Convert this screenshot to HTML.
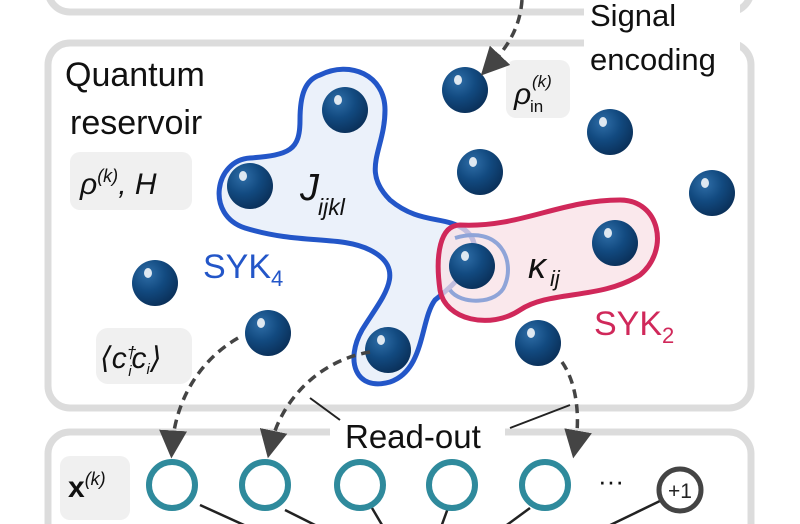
<!DOCTYPE html>
<html><head><meta charset="utf-8"><style>
html,body{margin:0;padding:0;background:#fff;width:800px;height:524px;overflow:hidden}
svg{display:block}
text{font-family:"Liberation Sans","DejaVu Sans",sans-serif}
</style></head><body>
<svg width="800" height="524" viewBox="0 0 800 524" xmlns="http://www.w3.org/2000/svg" style="overflow:hidden">
<defs>
<radialGradient id="ball" cx="0.35" cy="0.3" r="0.75">
<stop offset="0" stop-color="#2f6ea8"/><stop offset="0.5" stop-color="#124a80"/><stop offset="1" stop-color="#0a2f58"/>
</radialGradient>
<marker id="ah" markerWidth="8" markerHeight="8" refX="5" refY="4" orient="auto" markerUnits="strokeWidth">
<path d="M0,0 L8,4 L0,8 z" fill="#444"/></marker>
</defs>
<!-- panels -->
<rect x="48" y="-40" width="703" height="52" rx="22" fill="none" stroke="#dcdcdc" stroke-width="7"/>
<rect x="48" y="43" width="703" height="365" rx="22" fill="none" stroke="#dcdcdc" stroke-width="7"/>
<rect x="48" y="432" width="703" height="130" rx="22" fill="none" stroke="#dcdcdc" stroke-width="7"/>
<rect x="330" y="420" width="175" height="30" fill="#fff"/>
<rect x="584" y="0" width="156" height="78" fill="#fff"/>
<!-- label boxes -->
<rect x="70" y="152" width="122" height="58" rx="10" fill="#f0f0f0"/>
<rect x="506" y="60" width="64" height="58" rx="10" fill="#f0f0f0"/>
<rect x="96" y="328" width="96" height="56" rx="12" fill="#f0f0f0"/>
<rect x="60" y="456" width="70" height="64" rx="10" fill="#f0f0f0"/>
<!-- blue blob -->
<path d="M320,75 C350,60 385,75 385,110 C385,150 360,170 390,200 C420,225 445,215 465,230 C490,250 460,280 435,300 C420,320 425,370 390,382 C355,392 345,360 362,330 C380,300 410,270 370,250 C340,235 300,245 245,228 C205,215 215,160 250,158 C290,155 300,150 300,120 C300,95 305,80 320,75 Z" fill="#e6eef9" fill-opacity="0.8" stroke="#2356c8" stroke-width="5"/>
<!-- red blob -->
<path d="M460,225 C520,228 560,200 620,200 C660,200 670,250 640,275 C600,300 550,290 520,310 C490,330 445,320 440,290 C435,255 440,225 460,225 Z" fill="#f8e0e6" fill-opacity="0.75" stroke="#d0285a" stroke-width="5"/>
<path d="M455,238 C500,225 515,260 505,285 C498,305 460,305 450,290" fill="none" stroke="#8fa4d8" stroke-width="4"/>
<!-- balls -->
<g fill="url(#ball)">
<circle cx="345" cy="110" r="23"/><circle cx="250" cy="186" r="23"/><circle cx="465" cy="90" r="23"/>
<circle cx="610" cy="132" r="23"/><circle cx="480" cy="172" r="23"/><circle cx="712" cy="193" r="23"/>
<circle cx="155" cy="283" r="23"/><circle cx="268" cy="333" r="23"/><circle cx="472" cy="266" r="23"/>
<circle cx="615" cy="243" r="23"/><circle cx="388" cy="350" r="23"/><circle cx="538" cy="343" r="23"/>
</g>
<g fill="#fff" opacity="0.85">
<ellipse cx="338" cy="100" rx="4" ry="5"/><ellipse cx="243" cy="176" rx="4" ry="5"/><ellipse cx="458" cy="80" rx="4" ry="5"/>
<ellipse cx="603" cy="122" rx="4" ry="5"/><ellipse cx="473" cy="162" rx="4" ry="5"/><ellipse cx="705" cy="183" rx="4" ry="5"/>
<ellipse cx="148" cy="273" rx="4" ry="5"/><ellipse cx="261" cy="323" rx="4" ry="5"/><ellipse cx="465" cy="256" rx="4" ry="5"/>
<ellipse cx="608" cy="233" rx="4" ry="5"/><ellipse cx="381" cy="340" rx="4" ry="5"/><ellipse cx="531" cy="333" rx="4" ry="5"/>
</g>
<!-- dashed arrows -->
<g fill="none" stroke="#444" stroke-width="3.5" stroke-dasharray="9,6">
<path d="M522,0 C520,30 505,50 488,68" marker-end="url(#ah)"/>
<path d="M238,338 C200,360 175,400 172,448" marker-end="url(#ah)"/>
<path d="M370,352 C320,360 280,400 270,448" marker-end="url(#ah)"/>
<path d="M562,362 C578,385 580,420 575,448" marker-end="url(#ah)"/>
</g>
<g stroke="#222" stroke-width="2">
<line x1="310" y1="398" x2="340" y2="420"/><line x1="570" y1="405" x2="510" y2="428"/>
</g>
<!-- texts -->
<text x="65" y="86" font-size="34" fill="#111">Quantum</text>
<text x="70" y="134" font-size="34" fill="#111">reservoir</text>
<text x="590" y="26" font-size="31" fill="#111">Signal</text>
<text x="590" y="70" font-size="31" fill="#111">encoding</text>
<text x="80" y="194" font-size="30" font-style="italic" fill="#111">ρ<tspan font-size="18" dy="-12">(k)</tspan><tspan dy="12">, H</tspan></text>
<text x="514" y="104" font-size="30" font-style="italic" fill="#111">ρ</text>
<text x="532" y="87" font-size="17" font-style="italic" fill="#111">(k)</text>
<text x="530" y="112" font-size="17" fill="#111">in</text>
<text x="300" y="200" font-size="38" font-style="italic" fill="#111">J</text>
<text x="318" y="215" font-size="23" font-style="italic" fill="#111">ijkl</text>
<text x="528" y="278" font-size="36" font-style="italic" fill="#111">κ</text>
<text x="550" y="286" font-size="22" font-style="italic" fill="#111">ij</text>
<text x="203" y="278" font-size="34" fill="#2356c8">SYK<tspan font-size="22" dy="8">4</tspan></text>
<text x="594" y="335" font-size="34" fill="#d0285a">SYK<tspan font-size="22" dy="8">2</tspan></text>
<text x="100" y="368" font-size="30" font-style="italic" fill="#111">⟨c<tspan font-size="17" dy="-10">†</tspan><tspan font-size="15" dx="-8" dy="18">i</tspan><tspan font-size="30" dy="-8">c</tspan><tspan font-size="15" dy="6">i</tspan><tspan font-size="30" dy="-6">⟩</tspan></text>
<text x="345" y="448" font-size="33" fill="#111">Read-out</text>
<text x="68" y="497" font-size="30" font-weight="bold" fill="#111">x<tspan font-size="18" font-weight="normal" font-style="italic" dy="-12">(k)</tspan></text>
<text x="598" y="490" font-size="26" fill="#111">···</text>
<!-- lower lines -->
<g stroke="#222" stroke-width="2.5">
<line x1="200" y1="505" x2="255" y2="530"/><line x1="285" y1="510" x2="325" y2="530"/>
<line x1="372" y1="508" x2="385" y2="530"/><line x1="448" y1="508" x2="440" y2="530"/>
<line x1="530" y1="508" x2="500" y2="530"/><line x1="662" y1="500" x2="600" y2="530"/>
</g>
<g fill="#fff" stroke="#2f8a9c" stroke-width="6">
<circle cx="172" cy="485" r="23"/><circle cx="265" cy="485" r="23"/><circle cx="360" cy="485" r="23"/>
<circle cx="452" cy="485" r="23"/><circle cx="545" cy="485" r="23"/>
</g>
<circle cx="680" cy="490" r="21" fill="#fff" stroke="#444" stroke-width="5"/>
<text x="680" y="498" font-size="21" text-anchor="middle" fill="#222">+1</text>
</svg>
</body></html>
